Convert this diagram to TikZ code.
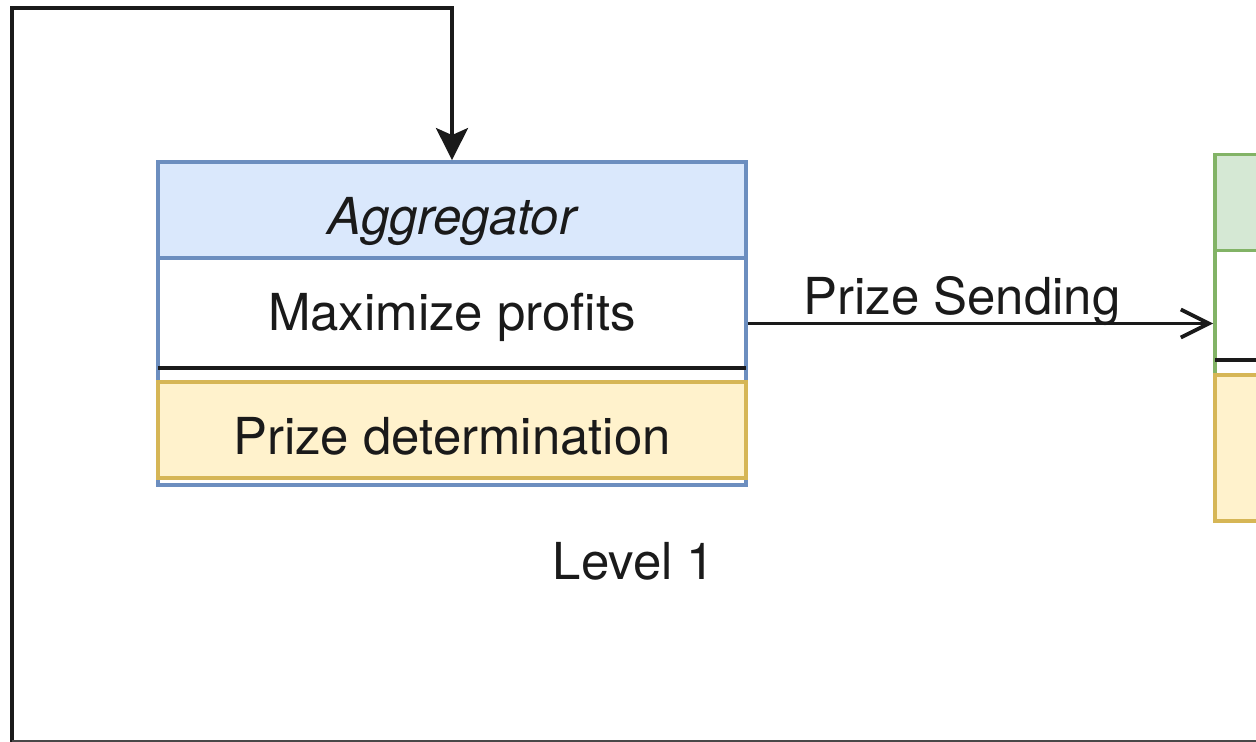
\documentclass[tikz,border=0pt]{standalone}
\usepackage{fontspec}
\setmainfont{TeX Gyre Heros}
\usetikzlibrary{arrows.meta}
\definecolor{aggfill}{HTML}{DAE8FC}
\definecolor{aggline}{HTML}{6C8EBF}
\definecolor{cltfill}{HTML}{D5E8D4}
\definecolor{cltline}{HTML}{82B366}
\definecolor{przfill}{HTML}{FFF2CC}
\definecolor{przline}{HTML}{D6B656}
\definecolor{ink}{HTML}{1A1A1A}
\tikzset{
	blockframe/.style={draw, fill=white, minimum width=11.76cm, inner sep=0pt},
	headbox/.style={draw, minimum width=11.76cm, minimum height=1.92cm, inner sep=0pt},
	prizebox/.style={draw=przline, fill=przfill, minimum width=11.76cm, inner sep=0pt},
	lbl/.style={text=ink, inner sep=0pt, text height=21pt, text depth=0pt, font=\fontsize{29}{34}\selectfont},
}
\begin{document}
\begin{tikzpicture}[x=0.02cm,y=-0.02cm,line width=2.2pt]
	\useasboundingbox (0,0) rectangle (1256,742);
	\clip (0,0) rectangle (1256,742);
	% Level 1: aggregator
	\node[blockframe, draw=aggline, minimum height=6.46cm] (agg) at (452,323.5) {};
	\node[headbox, fill=aggfill, draw=aggline] (agghead) at (452,210) {};
	\node[lbl, font=\fontsize{29}{34}\selectfont\itshape] (aggname) at (452,216) {Aggregator};
	\node[lbl] (aggtask) at (452,312) {Maximize profits};
	\draw[ink] (158,368) -- (746,368);
	\node[prizebox, minimum height=1.92cm] (aggprize) at (452,430) {};
	\node[lbl] (aggprizetxt) at (452,436) {Prize determination};
	\node[lbl] (lvl) at (634,561) {Level 1};
	% next level (cut off)
	\node[blockframe, draw=cltline, minimum height=7.32cm] (clt) at (1509,338) {};
	\node[headbox, fill=cltfill, draw=cltline] (clthead) at (1509,202.5) {};
	\draw[ink] (1215,360) -- (1803,360);
	\node[prizebox, minimum height=2.92cm] (cltprize) at (1509,448) {};
	% connectors
	\coordinate (loopin) at (12,745);
	\coordinate (loopturn) at (12,8);
	\draw[ink, -{Stealth[length=0.64cm,width=0.64cm,inset=0.14cm]}] (loopin) -- (loopturn) -| (agghead.north);
	\draw[ink, -{Straight Barb[length=0.56cm,width=0.56cm]}] (agg.east) -- (agg.east -| clt.west);
	\node[lbl] (sendlbl) at (962,296) {Prize Sending};
	\draw[ink!80, line width=1pt] (12,741) -- (1256,741);
\end{tikzpicture}
\end{document}
